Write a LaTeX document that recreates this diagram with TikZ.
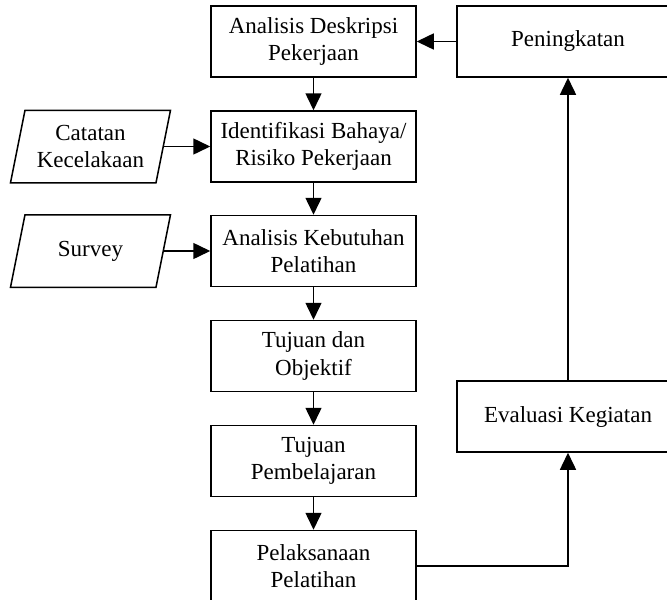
\documentclass[tikz,border=0pt]{standalone}
\usepackage{fontspec}
\setmainfont{Liberation Serif}
\usetikzlibrary{arrows.meta,positioning}
\begin{document}
\begin{tikzpicture}[x=1pt,y=-1pt,
  line width=1.5pt,
  txt/.style={font=\fontsize{23}{27.6}\selectfont, align=center, inner sep=0pt},
  mainbox/.style={txt, draw, minimum width=205pt, minimum height=71pt},
  sidebox/.style={txt, draw, minimum width=222pt, minimum height=71pt},
  databox/.style={txt, minimum width=144pt, minimum height=71pt},
  arr/.style={-{Triangle[length=17pt,width=16pt]}}
]
\clip (0,0) rectangle (667,600);
\fill[white] (0,0) rectangle (667,600);

\node[mainbox] (b1) at (313.5,41.5) {Analisis Deskripsi\\Pekerjaan};
\node[mainbox] (b2) at (313.5,146.5) {Identifikasi Bahaya/\\Risiko Pekerjaan};
\node[mainbox] (b3) at (313.5,251) {Analisis Kebutuhan\\Pelatihan};
\node[mainbox] (b4) at (313.5,356) {Tujuan dan\\Objektif};
\node[mainbox] (b5) at (313.5,461) {Tujuan\\Pembelajaran};
\node[mainbox] (b6) at (313.5,566) {Pelaksanaan\\Pelatihan};

\node[sidebox] (pen) at (568,41.5) {Peningkatan};
\node[sidebox] (eva) at (568,416.5) {Evaluasi Kegiatan};

\node[databox] (cat) at (90.5,146.5) {Catatan\\Kecelakaan};
\node[databox] (sur) at (90.5,251) {Survey};
\foreach \n in {cat,sur}{
  \draw ([xshift=7.25pt]\n.north west) -- ([xshift=7.25pt]\n.north east)
     -- ([xshift=-7.25pt]\n.south east) -- ([xshift=-7.25pt]\n.south west) -- cycle;
}

\draw[arr] (b1) -- (b2);
\draw[arr] (b2) -- (b3);
\draw[arr] (b3) -- (b4);
\draw[arr] (b4) -- (b5);
\draw[arr] (b5) -- (b6);
\draw[arr] (cat.east) -- (b2.west);
\draw[arr] (sur.east) -- (b3.west);
\draw[arr] (b6.east) -| (eva.south);
\draw[arr] (eva.north) -- (pen.south);
\draw[arr] (pen.west) -- (b1.east);
\end{tikzpicture}
\end{document}
